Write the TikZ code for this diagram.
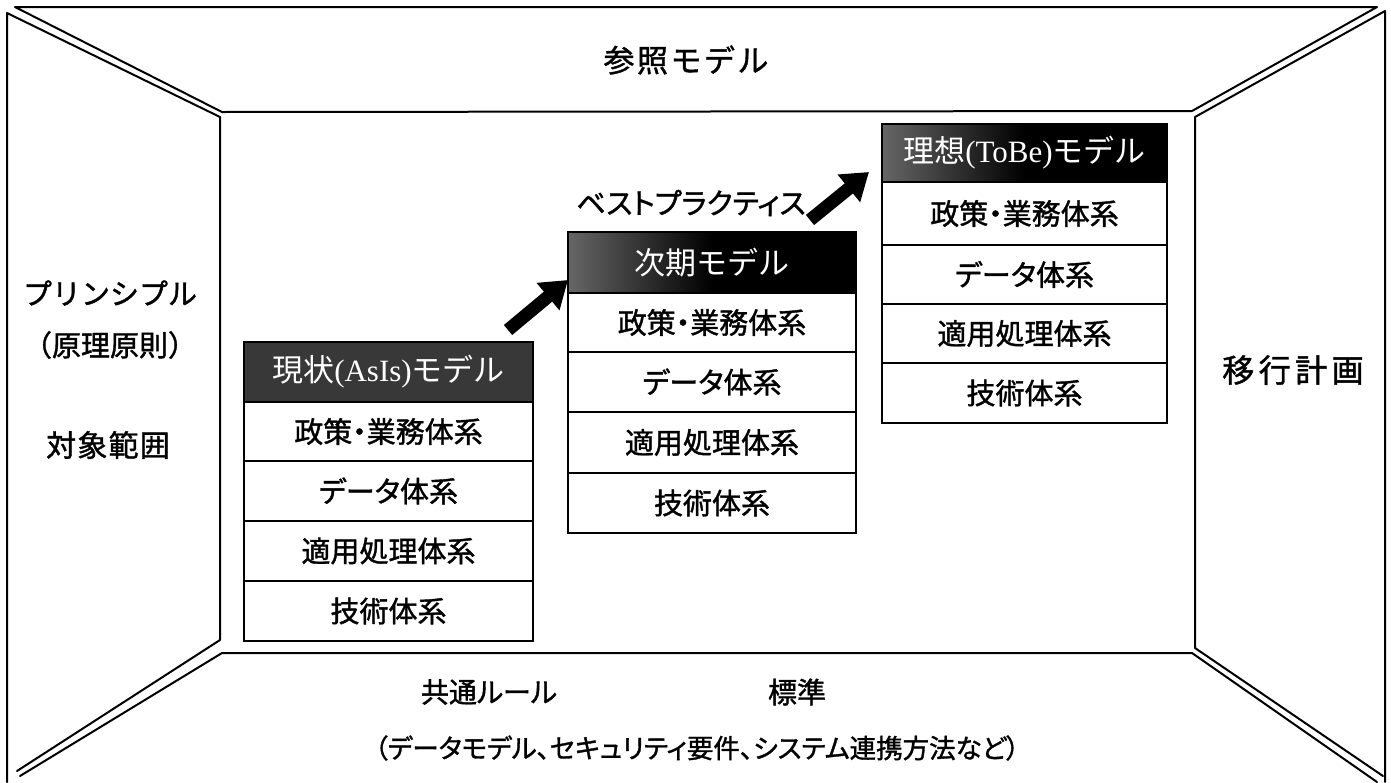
\documentclass[tikz,border=0pt]{standalone}
\usepackage{fontspec}
\newfontfamily\jp[AutoFakeBold=1.3]{Noto Sans CJK JP}
\newfontfamily\jpp[AutoFakeBold=1.3,RawFeature=+palt]{Noto Sans CJK JP}
\newfontfamily\ser{Liberation Serif}
\usetikzlibrary{arrows.meta}
\tikzset{
  frame/.style={line width=2pt, line join=round, line cap=round},
  cell/.style={draw, line width=1.8pt, minimum height=60pt, inner sep=0pt, font=\jpp\bfseries\fontsize{29}{32}\selectfont},
  head/.style={cell, text=white, font=\jp\fontsize{31}{34}\selectfont},
  lbl/.style={font=\jp\bfseries\fontsize{29}{32}\selectfont, inner sep=0pt},
  bigarrow/.style={line width=13pt, -{Triangle[width=34pt,length=26pt]}},
}
\begin{document}
\begin{tikzpicture}[x=1pt,y=-1pt]
\useasboundingbox (0,0) rectangle (1391,782);
% room frame
\draw[frame] (15,7) -- (1377,7) -- (1192,111) -- (222,112) -- cycle;
\draw[frame] (7,782) -- (7,13) -- (220,117) -- (220,640) -- (17,771);
\draw[frame] (1385,782) -- (1385,11) -- (1195,117) -- (1195,648) -- (1383,776);
\draw[frame] (20,776) -- (222,653) -- (1192,653) -- (1377,782);

% box 1
\node[head, minimum width=289pt, fill=black!78] (h1) at (388.5,372) {現状{\ser (AsIs)}モデル};
\node[cell, minimum width=289pt, minimum height=59pt] (a1) at (388.5,431.5) {政策・業務体系};
\node[cell, minimum width=289pt] (b1) at (388.5,491) {データ体系};
\node[cell, minimum width=289pt] (c1) at (388.5,551) {適用処理体系};
\node[cell, minimum width=289pt] (d1) at (388.5,611) {技術体系};

% box 2
\node[head, minimum width=288pt, minimum height=61pt, left color=black!60, right color=black, middle color=black] (h2) at (712,262.5) {次期モデル};
\node[cell, minimum width=288pt, minimum height=59pt] (a2) at (712,322.5) {政策・業務体系};
\node[cell, minimum width=288pt] (b2) at (712,382) {データ体系};
\node[cell, minimum width=288pt, minimum height=61pt] (c2) at (712,442.5) {適用処理体系};
\node[cell, minimum width=288pt] (d2) at (712,503) {技術体系};

% box 3
\node[head, minimum width=285pt, minimum height=58pt, left color=black!60, right color=black, middle color=black] (h3) at (1024.5,153) {理想{\ser (ToBe)}モデル};
\node[cell, minimum width=285pt, minimum height=63pt] (a3) at (1024.5,213.5) {政策・業務体系};
\node[cell, minimum width=285pt, minimum height=59pt] (b3) at (1024.5,274.5) {データ体系};
\node[cell, minimum width=285pt, minimum height=59pt] (c3) at (1024.5,333.5) {適用処理体系};
\node[cell, minimum width=285pt] (d3) at (1024.5,393) {技術体系};

% arrows
\coordinate (t1) at (508,330);
\coordinate (e1) at (568,280);
\coordinate (t2) at (810,220);
\coordinate (e2) at (869,172);
\draw[bigarrow] (t1) -- (e1);
\draw[bigarrow] (t2) -- (e2);

% labels
\node[lbl, font=\jp\bfseries\fontsize{31}{34}\selectfont\addfontfeature{LetterSpace=8}] (ref) at (686,60) {参照モデル};
\node[lbl, font=\jpp\bfseries\fontsize{29}{32}\selectfont] (bp) at (691,203) {ベストプラクティス};
\node[lbl] (pr) at (110,293) {プリンシプル};
\node[lbl] (gen) at (110,345) {（原理原則）};
\node[lbl, font=\jp\bfseries\fontsize{30}{32}\selectfont\addfontfeature{LetterSpace=4}] (scope) at (108,445) {対象範囲};
\node[lbl, font=\jp\bfseries\fontsize{32}{34}\selectfont\addfontfeature{LetterSpace=14}] (mig) at (1293,370) {移行計画};
\node[lbl, font=\jpp\bfseries\fontsize{28}{32}\selectfont] (rule) at (489,692) {共通ルール};
\node[lbl] (std) at (797,692) {標準};
\node[lbl, font=\jpp\bfseries\fontsize{26.5}{32}\selectfont] (ex) at (697,748) {（データモデル、セキュリティ要件、システム連携方法など）};
\end{tikzpicture}
\end{document}
